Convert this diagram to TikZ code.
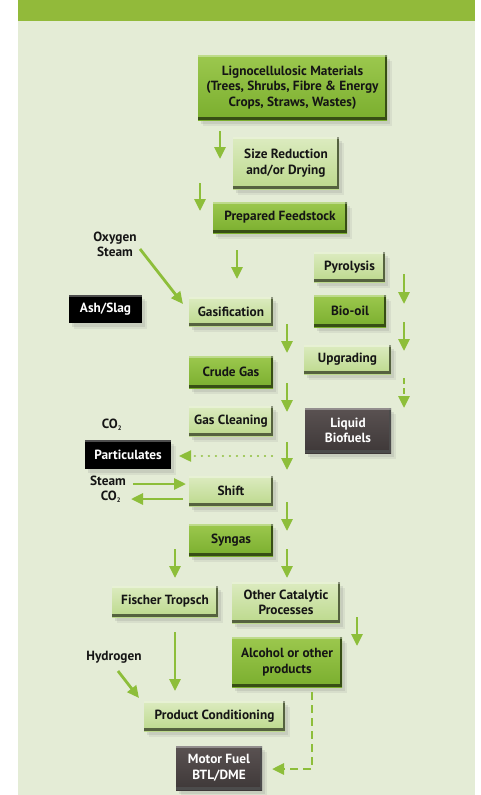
\documentclass[tikz,border=0pt]{standalone}
\usepackage{fontspec}
\setmainfont{PT Sans Bold}
\usetikzlibrary{arrows.meta,shadows}
\definecolor{panel}{HTML}{E4ECD6}
\definecolor{header}{HTML}{92BA3A}
\definecolor{arrowg}{HTML}{8DBE3A}
\definecolor{lightT}{HTML}{DCEBC0}
\definecolor{lightB}{HTML}{BCD98C}
\definecolor{midT}{HTML}{9CC84E}
\definecolor{midB}{HTML}{7AAE2E}
\definecolor{darkT}{HTML}{5A5252}
\definecolor{darkB}{HTML}{3E3838}
\definecolor{txt}{HTML}{151515}
\tikzset{
  boxbase/.style={inner sep=0pt, align=center, text=txt,
    font=\fontsize{13.3}{15.5}\selectfont,
    drop shadow={opacity=0.12, shadow xshift=5pt, shadow yshift=-6pt},
    drop shadow={opacity=0.18, shadow xshift=3pt, shadow yshift=-4pt}},
  bevel/.style={path picture={
    \fill[#1] (path picture bounding box.south west) rectangle ([yshift=3pt]path picture bounding box.south east);
    \fill[#1] ([xshift=-2pt]path picture bounding box.south east) rectangle (path picture bounding box.north east);
    \fill[white,opacity=.35] (path picture bounding box.north west) rectangle ([yshift=-1.5pt]path picture bounding box.north east);}},
  lbox/.style={boxbase, top color=lightT, bottom color=lightB, bevel={black!55!lightB}},
  mbox/.style={boxbase, top color=midT, bottom color=midB, bevel={black!55!midB}},
  dbox/.style={boxbase, top color=darkT, bottom color=darkB, text=white, bevel={black!70}},
  kbox/.style={boxbase, fill=black, text=white, path picture={
    \fill[white,opacity=.3] (path picture bounding box.north west) rectangle ([yshift=-1.5pt]path picture bounding box.north east);}},
  garrow/.style={draw=arrowg, line width=2.8pt, -{Triangle[width=11pt,length=12pt]}},
  lbl/.style={text=txt, font=\fontsize{13.3}{15}\selectfont, align=center, inner sep=0pt},
}
\newcommand{\cotwo}{CO\textsubscript{\fontsize{6.5}{6.5}\selectfont 2}}
\begin{document}
\begin{tikzpicture}[x=1pt,y=-1pt]
\useasboundingbox (0,0) rectangle (481,795);
\fill[white] (0,0) rectangle (481,795);
\fill[panel] (18,21) rectangle (475,795);
\fill[header] (18,0) rectangle (475,21);

% boxes
\node[mbox, minimum width=189pt, minimum height=65pt] (ligno) at (292.5,87.5) {Lignocellulosic Materials\\(Trees, Shrubs, Fibre \& Energy\\Crops, Straws, Wastes)};
\node[lbox, minimum width=106pt, minimum height=52pt] (size) at (286,163) {Size Reduction\\and/or Drying};
\node[mbox, minimum width=134pt, minimum height=31pt] (prep) at (280,217.5) {Prepared Feedstock};
\node[lbox, minimum width=84pt, minimum height=29pt] (gasif) at (231,311.5) {Gasification};
\node[lbox, minimum width=71pt, minimum height=30pt] (pyro) at (349.5,267) {Pyrolysis};
\node[mbox, minimum width=72pt, minimum height=32pt] (biooil) at (350,311) {Bio-oil};
\node[lbox, minimum width=87pt, minimum height=29pt] (upgr) at (347.5,359.5) {Upgrading};
\node[dbox, minimum width=86pt, minimum height=45pt] (liquid) at (348,430.5) {Liquid\\Biofuels};
\node[mbox, minimum width=84pt, minimum height=32pt] (crude) at (231,372) {Crude Gas};
\node[lbox, minimum width=84pt, minimum height=30pt] (clean) at (231,421) {Gas Cleaning};
\node[kbox, minimum width=73pt, minimum height=28pt] (ash) at (105.5,309) {Ash/Slag};
\node[kbox, minimum width=86pt, minimum height=29pt] (partic) at (128,454.5) {Particulates};
\node[lbox, minimum width=84pt, minimum height=30pt] (shift) at (231,491) {Shift};
\node[mbox, minimum width=84pt, minimum height=32pt] (syngas) at (231,540) {Syngas};
\node[lbox, minimum width=106pt, minimum height=31pt] (fischer) at (165,601.5) {Fischer Tropsch};
\node[lbox, minimum width=108pt, minimum height=41pt] (other) at (286,602.5) {Other Catalytic\\Processes};
\node[mbox, minimum width=110pt, minimum height=50pt] (alcohol) at (287,662) {Alcohol or other\\products};
\node[lbox, minimum width=141pt, minimum height=30pt] (prodc) at (214.5,716) {Product Conditioning};
\node[dbox, minimum width=86pt, minimum height=44pt] (motor) at (219,768) {Motor Fuel\\BTL/DME};

% labels
\node[lbl] (oxy) at (115,244.5) {Oxygen\\Steam};
\node[lbl] (co2a) at (112,425) {\cotwo};
\node[lbl] (steam) at (108,481) {Steam};
\node[lbl] (co2b) at (111,497) {\cotwo};
\node[lbl] (hyd) at (114,657) {Hydrogen};

% arrow coordinates
\coordinate (a1s) at (220,131); \coordinate (a1e) at (220,159);
\coordinate (a2s) at (200,183); \coordinate (a2e) at (200,211);
\coordinate (a3s) at (237,250); \coordinate (a3e) at (237,279);
\coordinate (oxs) at (140,249); \coordinate (oxe) at (183,304);
\coordinate (a4s) at (287,324); \coordinate (a4e) at (287,353);
\coordinate (a5s) at (287,383); \coordinate (a5e) at (287,412);
\coordinate (a6s) at (287,442); \coordinate (a6e) at (287,470);
\coordinate (dots) at (272,456); \coordinate (dote) at (179,456);
\coordinate (sts) at (133,484); \coordinate (ste) at (186,484);
\coordinate (cos) at (183,499); \coordinate (coe) at (131,499);
\coordinate (a7s) at (287,502); \coordinate (a7e) at (287,531);
\coordinate (a8s) at (175,549); \coordinate (a8e) at (175,578);
\coordinate (a9s) at (287,549); \coordinate (a9e) at (287,578);
\coordinate (a10s) at (357,617); \coordinate (a10e) at (357,646);
\coordinate (fts) at (175,632); \coordinate (fte) at (175,691);
\coordinate (hys) at (118,671); \coordinate (hye) at (139,698);
\coordinate (dss) at (312,692); \coordinate (dsc) at (312,769); \coordinate (dse) at (272,769);
\coordinate (r1s) at (404,274); \coordinate (r1e) at (404,304);
\coordinate (r2s) at (404,322); \coordinate (r2e) at (404,351);
\coordinate (r3s) at (404,378); \coordinate (r3e) at (404,408);

\draw[garrow] (a1s) -- (a1e);
\draw[garrow] (a2s) -- (a2e);
\draw[garrow] (a3s) -- (a3e);
\draw[garrow] (oxs) -- (oxe);
\draw[garrow] (a4s) -- (a4e);
\draw[garrow] (a5s) -- (a5e);
\draw[garrow] (a6s) -- (a6e);
\draw[garrow, line width=2.4pt, dash pattern=on 0.01pt off 7pt, line cap=round] (dots) -- (dote);
\draw[garrow] (sts) -- (ste);
\draw[garrow] (cos) -- (coe);
\draw[garrow] (a7s) -- (a7e);
\draw[garrow] (a8s) -- (a8e);
\draw[garrow] (a9s) -- (a9e);
\draw[garrow] (a10s) -- (a10e);
\draw[garrow] (fts) -- (fte);
\draw[garrow] (hys) -- (hye);
\draw[garrow, dash pattern=on 8pt off 5pt] (dss) -- (dsc) -- (dse);
\draw[garrow] (r1s) -- (r1e);
\draw[garrow] (r2s) -- (r2e);
\draw[garrow, dash pattern=on 6pt off 4pt] (r3s) -- (r3e);
\end{tikzpicture}
\end{document}
